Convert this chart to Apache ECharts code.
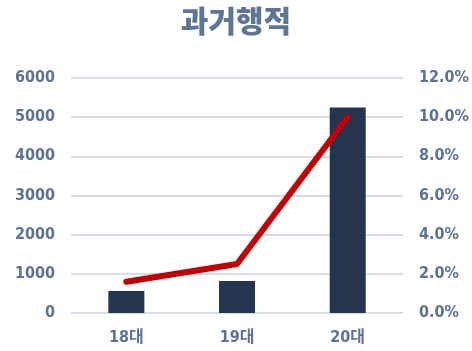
<!DOCTYPE html>
<html><head><meta charset="utf-8">
<script src="https://cdn.jsdelivr.net/npm/echarts@6/dist/echarts.min.js"></script>
<style>html,body{margin:0;padding:0;background:#fff}#c{width:472px;height:351px}</style>
</head><body><div id="c"></div>
<script>
const categories = ['18대', '19대', '20대'];
const barValues = [560, 820, 5250];
const lineValues = [1.6, 2.5, 10.0];
const leftTicks = [0, 1000, 2000, 3000, 4000, 5000, 6000];
const rightTicks = [0, 2, 4, 6, 8, 10, 12];

const labelColor = '#5e7292';
const labelFont = { color: labelColor, fontFamily: '"DejaVu Sans Condensed", "Liberation Sans Narrow", "Noto Sans CJK KR", sans-serif', fontWeight: 'bold', fontSize: 16 };
const chart = echarts.init(document.getElementById('c'));
chart.setOption({
  animation: false,
  title: { text: '과거행적', left: 'center', top: 1,
    textStyle: { color: '#5f7594', fontSize: 30, fontWeight: 900, fontFamily: '"Noto Sans CJK KR", sans-serif' } },
  grid: { left: 71, right: 61, top: 78, bottom: 38 },
  xAxis: { type: 'category', data: categories,
    axisLine: { show: false }, axisTick: { show: false },
    axisLabel: Object.assign({ margin: 17 }, labelFont) },
  yAxis: [
    { type: 'value', min: leftTicks[0], max: leftTicks[leftTicks.length-1], interval: 1000,
      axisLabel: Object.assign({ margin: 16, formatter: v => String(v) }, labelFont),
      splitLine: { lineStyle: { color: '#d9dde5', width: 2 } } },
    { type: 'value', min: rightTicks[0], max: rightTicks[rightTicks.length-1], interval: 2,
      axisLabel: Object.assign({ margin: 16, formatter: v => v.toFixed(1) + '%' }, labelFont),
      splitLine: { show: false } }
  ],
  series: [
    { type: 'bar', data: barValues, barWidth: 36, itemStyle: { color: '#243550' }, yAxisIndex: 0 },
    { type: 'line', data: lineValues, yAxisIndex: 1, symbol: 'none',
      lineStyle: { color: '#c00000', width: 6, cap: 'round', join: 'round' } }
  ]
});
</script></body></html>
